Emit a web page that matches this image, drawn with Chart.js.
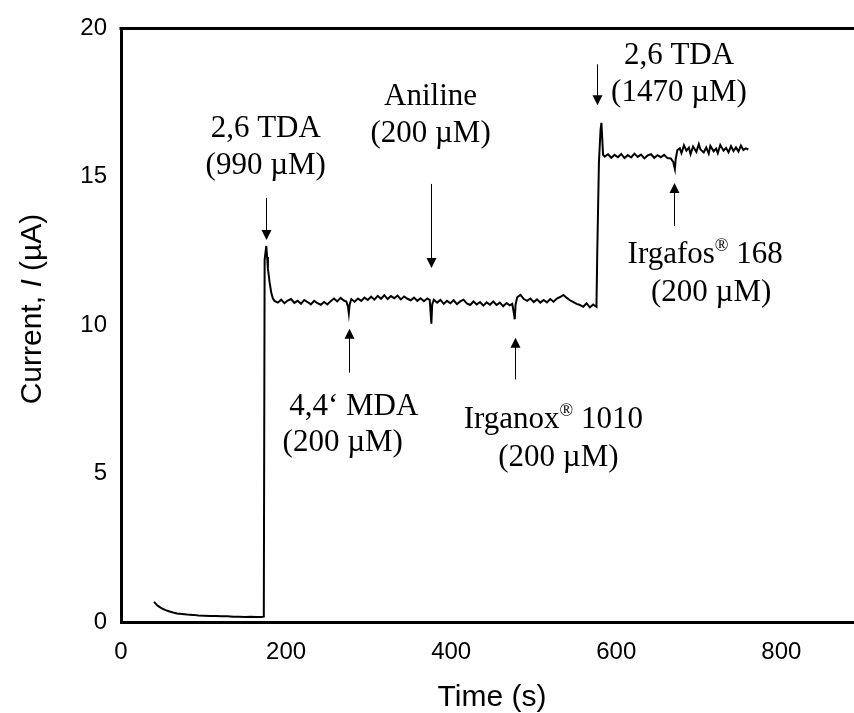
<!DOCTYPE html>
<html>
<head>
<meta charset="utf-8">
<script src="https://cdn.jsdelivr.net/npm/chart.js@4.4.1/dist/chart.umd.min.js"></script>
<style>
	html, body { margin: 0; padding: 0; background: #fff; }
	#wrap { width: 854px; height: 713px; }
</style>
</head>
<body>
<div id="wrap"><canvas id="chart"></canvas></div>
<script>
// time in s, current in µA
const timeS = [
	40, 42, 44, 47, 50, 54, 58, 63, 68, 74, 80, 87, 94, 101, 108, 115, 122, 129, 136, 143, 150, 157, 164, 170, 173,
	174, 176, 177, 178, 180, 182, 184,
	186, 190, 194, 198, 202, 206, 210, 214, 218, 222, 226, 230, 234, 238, 242, 246, 250, 254, 258, 262, 266, 270, 273,
	275, 276, 277, 279, 283, 287, 291, 295, 299, 303, 307, 311, 315, 319, 323, 327, 331, 335, 339, 343, 347, 351, 355,
	359, 363, 367, 371, 374, 376, 377, 379, 383, 387, 391, 395, 399, 403, 407, 411, 415, 419, 423, 427, 431, 435, 439,
	443, 447, 451, 455, 459, 463, 467, 471, 474, 476, 477, 478, 480, 484, 488, 492, 496, 500, 504, 508, 512, 516, 520,
	524, 528, 532, 536, 540, 544, 548, 552, 556, 560, 564, 568, 572, 576,
	577, 579, 581, 582, 583, 584, 586,
	590, 594, 598, 602, 606, 610, 614, 618, 622, 626, 630, 634, 638, 642, 646, 650, 654, 658, 662, 666, 669, 671, 672,
	674, 677, 679, 682, 685, 688, 690, 693, 697, 700, 702, 706, 709, 712, 714, 718, 721, 723, 726, 730, 733, 736, 739,
	742, 745, 748, 751, 754, 757, 760
];
const currentUA = [
	0.68, 0.62, 0.56, 0.50, 0.45, 0.40, 0.36, 0.32, 0.29, 0.27, 0.25, 0.24, 0.22, 0.21, 0.20, 0.20, 0.19, 0.19, 0.18, 0.18, 0.17, 0.18, 0.17, 0.17, 0.18,
	12.2, 12.67, 12.3, 11.9, 11.45, 11.1, 10.9,
	10.82, 10.76, 10.86, 10.74, 10.83, 10.88, 10.75, 10.82, 10.72, 10.85, 10.78, 10.70, 10.82, 10.74, 10.69, 10.78, 10.70, 10.81, 10.90, 10.80, 10.92, 10.83, 10.80,
	10.62, 10.40, 10.70, 10.88, 10.79, 10.90, 10.82, 10.93, 10.85, 10.96, 10.86, 10.99, 10.89, 11.01, 10.88, 10.98, 10.91, 11.00, 10.87, 10.97, 10.89, 10.84, 10.93,
	10.82, 10.91, 10.81, 10.90, 10.85, 10.05, 10.70, 10.86, 10.76, 10.85, 10.72, 10.82, 10.74, 10.84, 10.71, 10.80, 10.86, 10.73, 10.68, 10.80, 10.70, 10.78, 10.66,
	10.77, 10.69, 10.80, 10.68, 10.76, 10.64, 10.75, 10.67, 10.72, 10.40, 10.20, 10.70, 10.94, 11.02, 10.88, 10.82, 10.90, 10.78, 10.87, 10.76, 10.85, 10.77, 10.88,
	10.79, 10.90, 10.95, 11.02, 10.92, 10.84, 10.78, 10.72, 10.68, 10.62, 10.74, 10.60, 10.70, 10.62,
	12.5, 15.5, 16.6, 16.82, 16.3, 15.75, 15.68,
	15.76, 15.64, 15.74, 15.66, 15.77, 15.63, 15.73, 15.65, 15.78, 15.67, 15.75, 15.62, 15.72, 15.76, 15.64, 15.73, 15.66, 15.74, 15.63, 15.62, 15.50, 15.26, 15.60,
	15.90, 15.96, 15.80, 16.06, 15.88, 15.98, 15.76, 16.02, 15.84, 16.10, 15.92, 15.82, 15.99, 15.78, 16.04, 15.86, 15.95, 15.80, 16.07, 15.88, 15.97, 15.83, 16.03,
	15.87, 15.99, 15.85, 16.05, 15.90, 15.96, 15.92
];
const xTicks = [0, 200, 400, 600, 800];
const yTicks = [0, 5, 10, 15, 20];

// arrows: at time t, from current "from" to tip "to"
const arrows = [
	{ t: 175.4, from: 14.29, to: 12.87 },
	{ t: 375.0, from: 14.76, to: 11.93 },
	{ t: 577.0, from: 18.79, to: 17.41 },
	{ t: 275.8, from: 8.40, to: 9.88 },
	{ t: 477.9, from: 8.17, to: 9.58 },
	{ t: 670.2, from: 13.34, to: 14.79 }
];
// label lines: centre time, baseline current, pieces (sup = superscript)
const labels = [
	{ t: 175.4, y: 16.34, parts: [{ s: "2,6 TDA" }] },
	{ t: 175.4, y: 15.09, parts: [{ s: "(990 µM)" }] },
	{ t: 375.0, y: 17.41, parts: [{ s: "Aniline" }] },
	{ t: 375.0, y: 16.17, parts: [{ s: "(200 µM)" }] },
	{ t: 676.0, y: 18.79, parts: [{ s: "2,6 TDA" }] },
	{ t: 676.0, y: 17.55, parts: [{ s: "(1470 µM)" }] },
	{ t: 282.0, y: 6.99, parts: [{ s: "4,4‘ MDA" }] },
	{ t: 268.6, y: 5.75, parts: [{ s: "(200 µM)" }] },
	{ t: 523.8, y: 6.52, parts: [{ s: "Irganox" }, { s: "®", sup: true }, { s: " 1010" }] },
	{ t: 529.9, y: 5.24, parts: [{ s: "(200 µM)" }] },
	{ t: 707.7, y: 12.10, parts: [{ s: "Irgafos" }, { s: "®", sup: true }, { s: " 168" }] },
	{ t: 715.0, y: 10.82, parts: [{ s: "(200 µM)" }] }
];

const SANS = "'Liberation Sans', Arial, sans-serif";
const SERIF = "'Liberation Serif', 'Times New Roman', serif";

const points = timeS.map((t, i) => ({ x: t, y: currentUA[i] }));

const extras = {
	id: "extras",
	afterDraw(chart) {
		const { ctx, chartArea, scales } = chart;
		const xs = scales.x, ys = scales.y;
		ctx.save();

		// top frame line
		ctx.strokeStyle = "#000";
		ctx.lineWidth = 3;
		ctx.beginPath();
		ctx.moveTo(chartArea.left - 1.5, chartArea.top);
		ctx.lineTo(chartArea.right, chartArea.top);
		ctx.stroke();

		// arrows
		ctx.lineWidth = 1;
		ctx.fillStyle = "#000";
		arrows.forEach((a) => {
			const x = Math.round(xs.getPixelForValue(a.t)) + 0.5;
			const y1 = ys.getPixelForValue(a.from);
			const y2 = ys.getPixelForValue(a.to);
			const dir = y2 > y1 ? 1 : -1;
			ctx.beginPath();
			ctx.moveTo(x, y1);
			ctx.lineTo(x, y2 - dir * 9);
			ctx.stroke();
			ctx.beginPath();
			ctx.moveTo(x, y2);
			ctx.lineTo(x - 5, y2 - dir * 10);
			ctx.lineTo(x + 5, y2 - dir * 10);
			ctx.closePath();
			ctx.fill();
		});

		// text labels
		ctx.textBaseline = "alphabetic";
		ctx.textAlign = "left";
		labels.forEach((l) => {
			let w = 0;
			l.parts.forEach((p) => {
				ctx.font = (p.sup ? 18 : 31) + "px " + SERIF;
				p.w = ctx.measureText(p.s).width;
				w += p.w;
			});
			let x = xs.getPixelForValue(l.t) - w / 2;
			const y = ys.getPixelForValue(l.y);
			l.parts.forEach((p) => {
				ctx.font = (p.sup ? 18 : 31) + "px " + SERIF;
				ctx.fillText(p.s, x, p.sup ? y - 12 : y);
				x += p.w;
			});
		});

		// x axis title
		ctx.font = "30px " + SANS;
		ctx.textAlign = "center";
		ctx.fillText("Time (s)", 492, 706);

		// y axis title with italic I
		ctx.translate(33, 309);
		ctx.rotate(-Math.PI / 2);
		const yParts = [
			{ s: "Current, ", f: "30px " + SANS },
			{ s: "I", f: "italic 30px " + SANS },
			{ s: " (µA)", f: "30px " + SANS }
		];
		let tw = 0;
		yParts.forEach((p) => { ctx.font = p.f; p.w = ctx.measureText(p.s).width; tw += p.w; });
		let px = -tw / 2;
		ctx.textAlign = "left";
		ctx.textBaseline = "middle";
		yParts.forEach((p) => { ctx.font = p.f; ctx.fillText(p.s, px, 0); px += p.w; });

		ctx.restore();
	}
};

new Chart(document.getElementById("chart"), {
	type: "line",
	data: {
		datasets: [{
			data: points,
			borderColor: "#000",
			borderWidth: 2,
			pointRadius: 0,
			tension: 0,
			fill: false
		}]
	},
	options: {
		animation: false,
		responsive: true,
		maintainAspectRatio: false,
		layout: { padding: { top: 27, right: 0, left: 0, bottom: 0 } },
		plugins: { legend: { display: false }, tooltip: { enabled: false } },
		scales: {
			x: {
				type: "linear",
				min: 0,
				max: 888,
				afterBuildTicks: (s) => { s.ticks = xTicks.map((v) => ({ value: v })); },
				ticks: { font: { family: SANS, size: 24 }, color: "#000", padding: 16, maxRotation: 0 },
				grid: { display: false, drawTicks: false },
				border: { display: true, color: "#000", width: 3 },
				afterFit: (s) => { s.height = 91; }
			},
			y: {
				min: 0,
				max: 20,
				afterBuildTicks: (s) => { s.ticks = yTicks.map((v) => ({ value: v })); },
				ticks: { font: { family: SANS, size: 24 }, color: "#000", padding: 14 },
				grid: { display: false, drawTicks: false },
				border: { display: true, color: "#000", width: 3 },
				afterFit: (s) => { s.width = 121; }
			}
		}
	},
	plugins: [extras]
});
</script>
</body>
</html>
